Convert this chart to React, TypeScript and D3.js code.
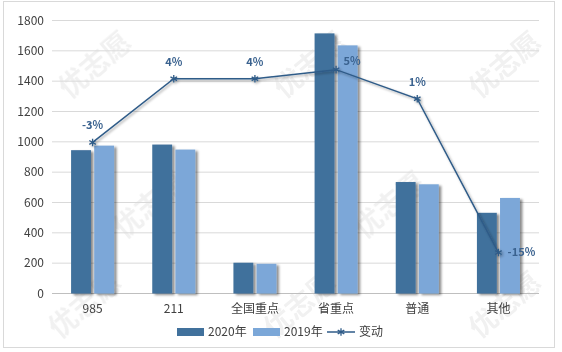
import React, { useEffect, useRef } from 'react';
import * as d3 from 'd3';

const categories = ['985', '211', '全国重点', '省重点', '普通', '其他'];
const series = ['2020年', '2019年'];
const values2020 = [945, 982, 203, 1715, 735, 532];
const values2019 = [975, 949, 196, 1636, 720, 630];
const changes = [-0.034, 0.036, 0.036, 0.046, 0.014, -0.155];
const yTicks = [0, 200, 400, 600, 800, 1000, 1200, 1400, 1600, 1800];

const colors = ['#41719C', '#7BA7D8'];
const lineColor = '#2F5B88';
const font = '"Noto Sans CJK SC", "Noto Sans", sans-serif';

const App: React.FC = () => {
  const svgRef = useRef<SVGSVGElement>(null);

  useEffect(() => {
    if (!svgRef.current) return;
    const svg = d3.select(svgRef.current);
    svg.selectAll('*').remove();

    const width = 562;
    const height = 352;
    svg.attr('width', width).attr('height', height);

    const defs = svg.append('defs');
    const shadow = defs.append('filter').attr('id', 'barShadow')
      .attr('x', '-20%').attr('y', '-10%').attr('width', '160%').attr('height', '130%');
    shadow.append('feDropShadow')
      .attr('dx', 2.5).attr('dy', 1.5).attr('stdDeviation', 1.3)
      .attr('flood-color', '#000').attr('flood-opacity', 0.45);
    const lineShadow = defs.append('filter').attr('id', 'lineShadow')
      .attr('x', '-10%').attr('y', '-10%').attr('width', '120%').attr('height', '130%');
    lineShadow.append('feDropShadow')
      .attr('dx', 1.5).attr('dy', 1.5).attr('stdDeviation', 1.2)
      .attr('flood-color', '#000').attr('flood-opacity', 0.35);

    // background + border
    svg.append('rect')
      .attr('x', 3.5).attr('y', 1.5).attr('width', 551).attr('height', 346)
      .attr('fill', '#fff').attr('stroke', '#D9D9D9');

    // watermark (faint, kept inside the frame)
    const wm = svg.append('g').attr('fill', '#000').attr('opacity', 0.055)
      .style('font-family', font).style('font-size', '28px').style('font-weight', 'bold');
    [[95, 65], [310, 65], [505, 65], [150, 205], [390, 205], [85, 305], [300, 305], [505, 305]].forEach(([x, y]) => {
      wm.append('text')
        .attr('transform', `translate(${x}, ${y}) rotate(-40)`)
        .attr('text-anchor', 'middle')
        .attr('dy', '0.35em')
        .text('优志愿');
    });

    // Scales
    const x = d3.scaleBand<string>().domain(categories).range([52, 539]);
    const x1 = d3.scaleBand<string>().domain(series).range([0, 43]).paddingInner(0.14);
    const y = d3.scaleLinear().domain([0, 1800]).range([293.5, 20.5]);
    const y2 = d3.scaleLinear().domain([-0.2, 0.1]).range([293.5, 20.5]);

    // grid lines
    svg.selectAll('.grid-line-y')
      .data(yTicks)
      .enter()
      .append('line')
      .attr('x1', 52)
      .attr('x2', 539)
      .attr('y1', d => y(d))
      .attr('y2', d => y(d))
      .attr('stroke', d => (d === 0 ? '#BFBFBF' : '#D9D9D9'))
      .attr('stroke-width', 1);

    svg.selectAll('.y-label')
      .data(yTicks)
      .enter()
      .append('text')
      .attr('x', 44)
      .attr('y', d => y(d))
      .attr('dy', '0.35em')
      .attr('text-anchor', 'end')
      .style('font-family', font)
      .style('font-size', '12px')
      .style('fill', '#404040')
      .text(d => d);

    // bars
    const bars = categories.flatMap((c, i) => [
      { c, s: series[0], v: values2020[i] },
      { c, s: series[1], v: values2019[i] },
    ]);
    const groupOffset = (x.bandwidth() - 43) / 2;
    svg.append('g')
      .selectAll('rect')
      .data(bars)
      .enter()
      .append('rect')
      .attr('x', d => (x(d.c) as number) + groupOffset + (x1(d.s) as number))
      .attr('y', d => y(d.v))
      .attr('width', x1.bandwidth())
      .attr('height', d => y(0) - y(d.v))
      .attr('fill', d => (d.s === series[0] ? colors[0] : colors[1]))
      .attr('filter', 'url(#barShadow)');

    // category labels
    svg.selectAll('.x-label')
      .data(categories)
      .enter()
      .append('text')
      .attr('x', d => (x(d) as number) + x.bandwidth() / 2)
      .attr('y', 309)
      .attr('dy', '0.35em')
      .attr('text-anchor', 'middle')
      .style('font-family', font)
      .style('font-size', '12px')
      .style('fill', '#404040')
      .text(d => d);

    // change line
    const pts = categories.map((c, i) => ({ c, v: changes[i], px: (x(c) as number) + x.bandwidth() / 2 }));
    const line = d3.line<{ px: number; v: number }>().x(d => d.px).y(d => y2(d.v));
    const lineG = svg.append('g').attr('filter', 'url(#lineShadow)');
    lineG.append('path')
      .datum(pts)
      .attr('fill', 'none')
      .attr('stroke', lineColor)
      .attr('stroke-width', 1.5)
      .attr('d', line);
    const star = d3.symbol().type(d3.symbolAsterisk).size(40);
    lineG.selectAll('.marker')
      .data(pts)
      .enter()
      .append('path')
      .attr('transform', d => `translate(${d.px}, ${y2(d.v)})`)
      .attr('d', star)
      .attr('fill', 'none')
      .attr('stroke', lineColor)
      .attr('stroke-width', 1.3);

    // point labels
    const labelOffsets = [[0, -17], [0, -17], [0, -17], [16, -8], [0, -17], [23, 0]];
    svg.selectAll('.pt-label')
      .data(pts)
      .enter()
      .append('text')
      .attr('x', (d, i) => d.px + labelOffsets[i][0])
      .attr('y', (d, i) => y2(d.v) + labelOffsets[i][1])
      .attr('dy', '0.35em')
      .attr('text-anchor', 'middle')
      .style('font-family', font)
      .style('font-size', '11px')
      .style('font-weight', 'bold')
      .style('fill', '#3A628F')
      .text(d => `${Math.round(d.v * 100)}%`);

    // legend
    const legend = svg.append('g').attr('transform', 'translate(0, 332)');
    legend.append('rect').attr('x', 177).attr('y', -4).attr('width', 27).attr('height', 8).attr('fill', colors[0]);
    legend.append('text').attr('x', 208).attr('y', 0).attr('dy', '0.35em')
      .style('font-family', font).style('font-size', '12px').style('fill', '#404040').text(series[0]);
    legend.append('rect').attr('x', 253).attr('y', -4).attr('width', 27).attr('height', 8).attr('fill', colors[1]);
    legend.append('text').attr('x', 284).attr('y', 0).attr('dy', '0.35em')
      .style('font-family', font).style('font-size', '12px').style('fill', '#404040').text(series[1]);
    legend.append('line').attr('x1', 327).attr('x2', 355).attr('y1', 0).attr('y2', 0)
      .attr('stroke', lineColor).attr('stroke-width', 1.5);
    legend.append('path').attr('transform', 'translate(341, 0)').attr('d', star)
      .attr('fill', 'none').attr('stroke', lineColor).attr('stroke-width', 1.3);
    legend.append('text').attr('x', 359).attr('y', 0).attr('dy', '0.35em')
      .style('font-family', font).style('font-size', '12px').style('fill', '#404040').text('变动');
  }, []);

  return (
    <svg ref={svgRef} style={{ position: 'absolute', left: 0, top: 0, display: 'block' }}></svg>
  );
};

export default App;
